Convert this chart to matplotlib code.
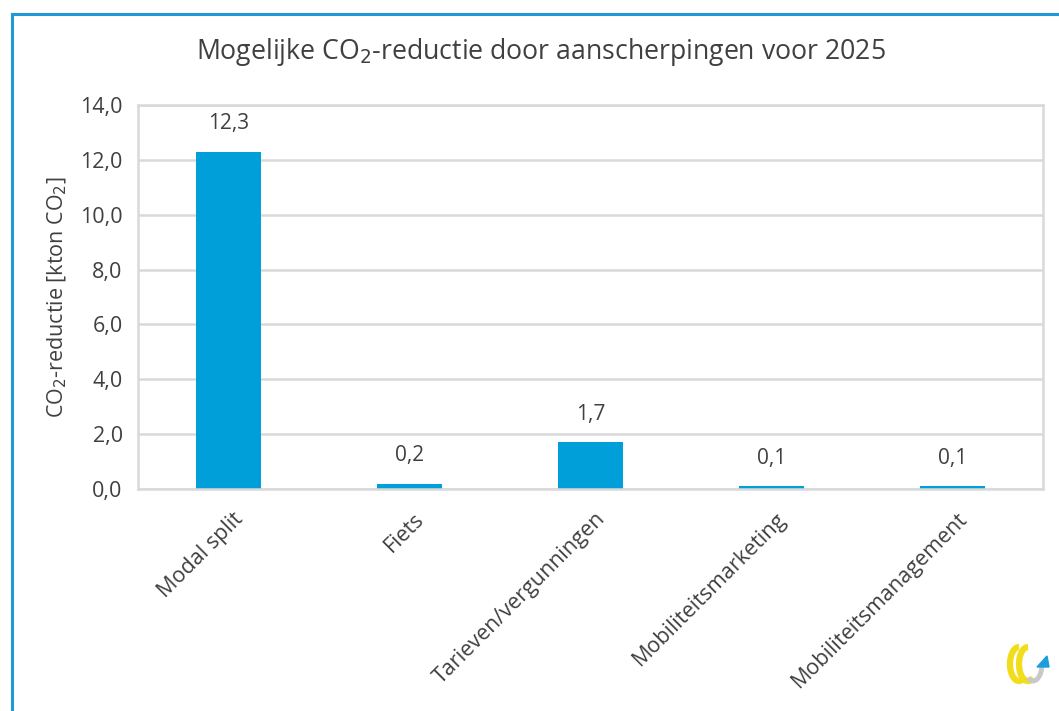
import matplotlib
matplotlib.use("Agg")
import matplotlib.pyplot as plt
from matplotlib.patches import Arc, Polygon
from matplotlib.lines import Line2D
import matplotlib.transforms as mtransforms

categories = ["Modal split", "Fiets", "Tarieven/vergunningen",
              "Mobiliteitsmarketing", "Mobiliteitsmanagement"]
values = [12.3, 0.2, 1.7, 0.1, 0.1]
yticks = [0, 2, 4, 6, 8, 10, 12, 14]

BAR = "#009fda"
TXT = "#404040"
GRID = "#d9d9d9"
FRAME = "#1f9ad6"

plt.rcParams["font.family"] = ["Open Sans", "DejaVu Sans"]

fig = plt.figure(figsize=(10.59, 7.11), dpi=100)
ax = fig.add_axes([0.1303, 0.3122, 0.8546, 0.5401])

x = range(len(categories))
ax.bar(x, values, width=0.354, color=BAR, zorder=2)
ax.set_xlim(-0.5, len(categories) - 0.5)
ax.set_ylim(0, 14)
ax.set_yticks(yticks)
ax.set_yticklabels([f"{v:.1f}".replace(".", ",") for v in yticks],
                   fontsize=15.5, color=TXT)
ax.yaxis.grid(True, color=GRID, linewidth=1.8, zorder=0)
ax.tick_params(axis="y", length=0, pad=11)
ax.tick_params(axis="x", length=0, pad=4)
for s in ax.spines.values():
    s.set_color(GRID)
    s.set_linewidth(1.8)

ax.set_xticks(list(x))
ax.set_xticklabels(categories, rotation=45, ha="right", va="top",
                   rotation_mode="anchor", fontsize=15.5, color=TXT)
offset = mtransforms.ScaledTranslation(3 / 72, -10 / 72, fig.dpi_scale_trans)
for lab in ax.get_xticklabels():
    lab.set_transform(lab.get_transform() + offset)

for xi, v in zip(x, values):
    ax.annotate(f"{v:.1f}".replace(".", ","), (xi, v), xytext=(0, 20),
                textcoords="offset points", ha="center", va="center",
                fontsize=15, color=TXT)

ax.set_ylabel(r"CO$_2$-reductie [kton CO$_2$]", fontsize=15.5, color=TXT,
              labelpad=8)

fig.text(0.511, 0.927,
         r"Mogelijke CO$_2$-reductie door aanscherpingen voor 2025",
         ha="center", va="center", fontsize=19.2, color=TXT)

# outer frame (left and top edges)
fig.add_artist(Line2D([12 / 1059, 12 / 1059], [0, 1 - 14 / 711],
                      transform=fig.transFigure, color=FRAME, linewidth=2.2))
fig.add_artist(Line2D([12 / 1059, 1], [1 - 14 / 711, 1 - 14 / 711],
                      transform=fig.transFigure, color=FRAME, linewidth=2.2))

# logo in the lower right corner
lax = fig.add_axes([995 / 1059, 22 / 711, 60 / 1059, 50 / 711])
lax.set_xlim(0, 60)
lax.set_ylim(0, 50)
lax.set_aspect("equal")
lax.axis("off")
lax.add_patch(Arc((24, 25), 18, 34, theta1=90, theta2=290,
                  color="#f2dd1c", linewidth=4.5))
lax.add_patch(Arc((33, 25), 18, 34, theta1=90, theta2=290,
                  color="#f2dd1c", linewidth=4.5))
lax.add_patch(Arc((38, 25), 18, 34, theta1=250, theta2=360,
                  color="#c8c8c8", linewidth=3.5))
lax.add_patch(Polygon([[42, 22], [54, 22], [52, 33]], closed=True,
                      color="#1a9ee0"))

fig.savefig("out.png", dpi=100)
